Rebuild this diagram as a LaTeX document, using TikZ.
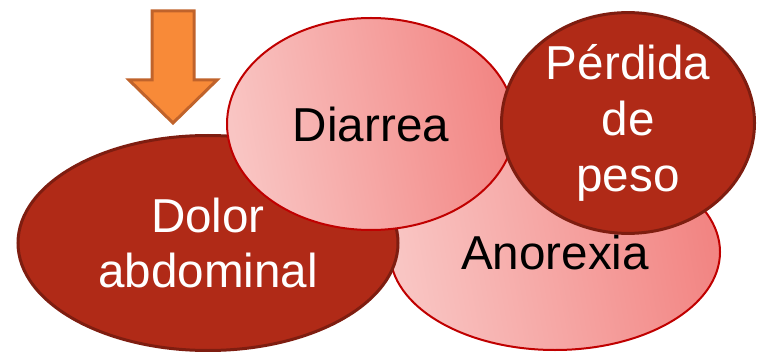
\documentclass[tikz,border=0pt]{standalone}
\usepackage{fontspec}
\setmainfont{Liberation Sans}
\usetikzlibrary{shapes.geometric}
\definecolor{darkfill}{HTML}{B02A17}
\definecolor{darkline}{HTML}{7E1D10}
\definecolor{pinklight}{HTML}{F9C5C3}
\definecolor{pinkdark}{HTML}{F28583}
\definecolor{pinkline}{HTML}{C00000}
\definecolor{arrowfill}{HTML}{F88A38}
\definecolor{arrowline}{HTML}{C0632B}
\tikzset{
  bubble/.style={shape=ellipse, inner sep=0pt, align=center,
    font=\fontsize{23.8}{27.8}\selectfont},
  darkbubble/.style={bubble, fill=darkfill, draw=darkline, line width=1.5pt, text=white},
  pinkbubble/.style={bubble, draw=pinkline, line width=1pt, text=black,
    left color=pinklight, right color=pinkdark, shading angle=100},
}
\begin{document}
\begin{tikzpicture}[x=0.5pt, y=-0.5pt]
            \useasboundingbox (0,0) rectangle (780,352);

            \node[pinkbubble, minimum width=165pt, minimum height=98pt] (anorexia) at (555, 252) {Anorexia};
            \node[darkbubble, minimum width=190pt, minimum height=107.5pt] (dolor) at (208, 243) {Dolor\\abdominal};
            \node[pinkbubble, minimum width=144pt, minimum height=106pt] (diarrea) at (371, 124) {Diarrea};
            \node[darkbubble, minimum width=126.5pt, minimum height=100pt] (perdida) at (628, 123) {Pérdida\\de\\peso};

            \draw[fill=arrowfill, draw=arrowline, line width=1.5pt, line join=miter]
                (152, 11) -- (194, 11) -- (194, 80) -- (217, 80) -- (173, 123)
                -- (129, 80) -- (152, 80) -- cycle;
        \end{tikzpicture}
\end{document}
